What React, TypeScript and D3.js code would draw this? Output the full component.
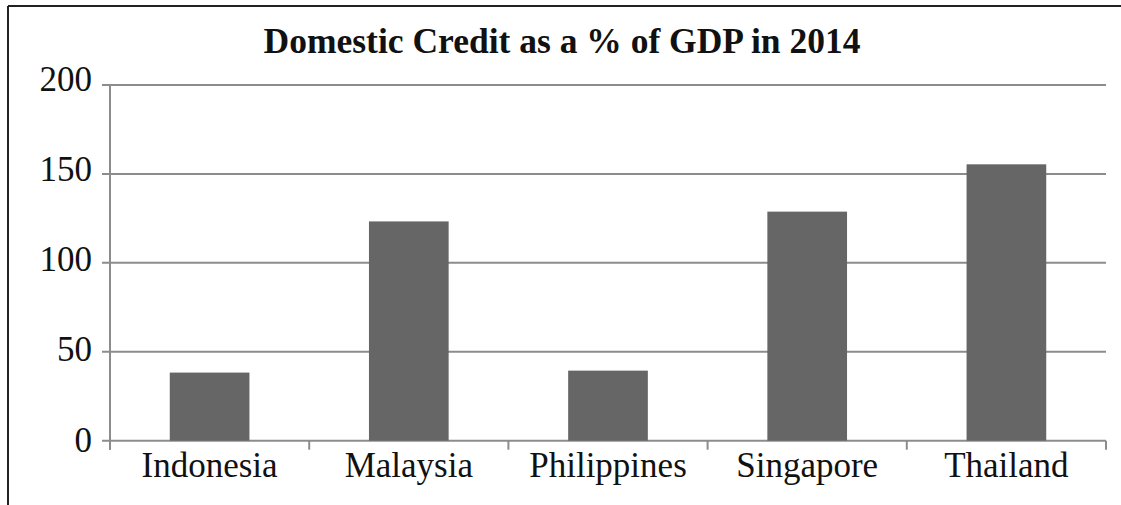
import React from "react";
import * as d3 from "d3";

const categories = ["Indonesia", "Malaysia", "Philippines", "Singapore", "Thailand"];
const values = [38.3, 123.3, 39.4, 128.8, 155.4];
const yTicks = [0, 50, 100, 150, 200];
const title = "Domestic Credit as a % of GDP in 2014";

const W = 1121;
const H = 505;
const plot = { left: 110, right: 1106, top: 85, bottom: 440.7 };
const FONT = "'Liberation Serif', 'Times New Roman', serif";

export default function App() {
  const x = d3
    .scaleBand<string>()
    .domain(categories)
    .range([plot.left, plot.right])
    .paddingInner(0.6)
    .paddingOuter(0.3);
  const y = d3.scaleLinear().domain([0, 200]).range([plot.bottom, plot.top]);
  // tick labels in the reference sit on a slightly wider spacing than the gridlines
  const yLabel = d3.scaleLinear().domain([0, 200]).range([451.5, 90.5]);
  const step = (plot.right - plot.left) / categories.length;
  const boundaries = d3.range(categories.length + 1).map((i) => plot.left + i * step);
  const grid = "#8c8c8c";

  return (
    <svg
      width={W}
      height={H}
      style={{ position: "absolute", left: 0, top: 0, background: "#fff" }}
      fontFamily={FONT}
    >
      <rect x={0} y={0} width={W} height={H} fill="#fff" />
      {/* frame */}
      <line x1={8} y1={6} x2={W} y2={6} stroke="#222" strokeWidth={1.8} />
      <line x1={8} y1={6} x2={8} y2={H} stroke="#222" strokeWidth={2} />

      <text x={562} y={53} textAnchor="middle" fontSize={35.5} fontWeight="bold" fill="#111">
        {title}
      </text>

      {/* gridlines */}
      {yTicks.map((t) => (
        <line
          key={"g" + t}
          x1={plot.left - 8}
          x2={plot.right}
          y1={y(t)}
          y2={y(t)}
          stroke={grid}
          strokeWidth={2}
        />
      ))}
      {/* y axis */}
      <line x1={plot.left} x2={plot.left} y1={plot.top} y2={plot.bottom + 9} stroke={grid} strokeWidth={2} />
      {/* x ticks */}
      {boundaries.map((b, i) => (
        <line key={"xt" + i} x1={b} x2={b} y1={plot.bottom} y2={plot.bottom + 9} stroke={grid} strokeWidth={2} />
      ))}

      {/* bars */}
      {categories.map((c, i) => (
        <rect
          key={c}
          x={x(c)}
          y={y(values[i])}
          width={x.bandwidth()}
          height={y(0) - y(values[i])}
          fill="#666666"
        />
      ))}

      {/* y labels */}
      {yTicks.map((t) => (
        <text key={"yl" + t} x={92} y={yLabel(t)} textAnchor="end" fontSize={35} fill="#111">
          {t}
        </text>
      ))}
      {/* x labels */}
      {categories.map((c) => (
        <text
          key={"xl" + c}
          x={(x(c) as number) + x.bandwidth() / 2}
          y={477}
          textAnchor="middle"
          fontSize={35}
          fill="#111"
        >
          {c}
        </text>
      ))}
    </svg>
  );
}
